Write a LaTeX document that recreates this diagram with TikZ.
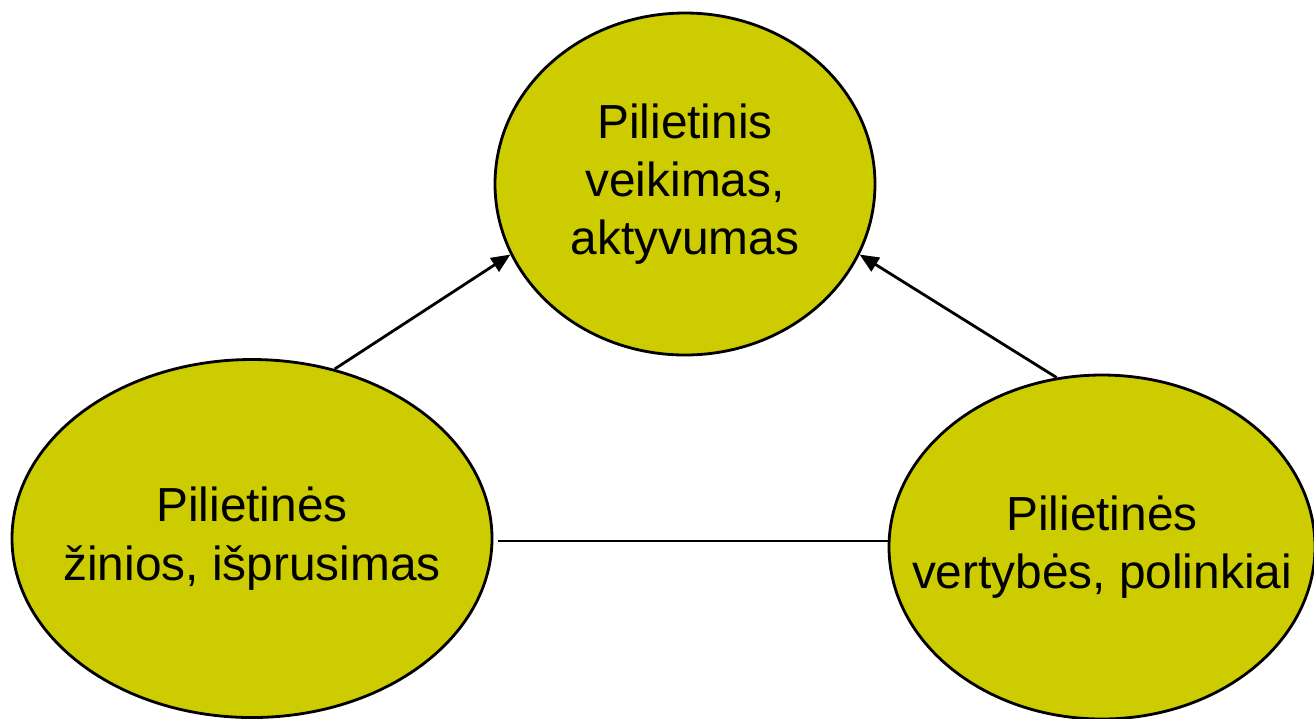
\documentclass[tikz,border=0pt]{standalone}
\usepackage{fontspec}
\setmainfont{Liberation Sans}
\usepackage{tikz}
\usetikzlibrary{shapes.geometric, arrows.meta, calc}
\usepackage{xcolor}
\definecolor{pilolive}{RGB}{204,204,0}

\begin{document}
\begin{tikzpicture}
\tikzstyle{blob} = [ellipse, draw=black, line width=0.8pt, fill=pilolive, inner sep=-20pt, align=center, font=\fontsize{13.6}{16.6}\selectfont]
\tikzstyle{arrow} = [line width=0.8pt, -{Triangle[length=1.9mm, width=1.6mm]}]

\useasboundingbox (0,0) rectangle (13.14,-7.18);

% Ellipses
\node (action) [blob, minimum width=3.8cm, minimum height=3.42cm] at (6.85,-1.84) {Pilietinis\\veikimas,\\aktyvumas};
\node (know) [blob, minimum width=4.8cm, minimum height=3.58cm] at (2.52,-5.385) {Pilietinės\\žinios, išprusimas};
\node (values) [blob, minimum width=4.26cm, minimum height=3.44cm] at (11.02,-5.47) {Pilietinės\\vertybės, polinkiai};

% Connectors
\draw [arrow] (know.64) -- (action.202);
\draw [arrow] (values.105) -- (action.338);
\coordinate (lineend) at (values.west |- 0,-5.41);
\draw [line width=0.8pt] (know.east |- lineend) ++(0.05,0) -- (lineend);

\end{tikzpicture}
\end{document}
